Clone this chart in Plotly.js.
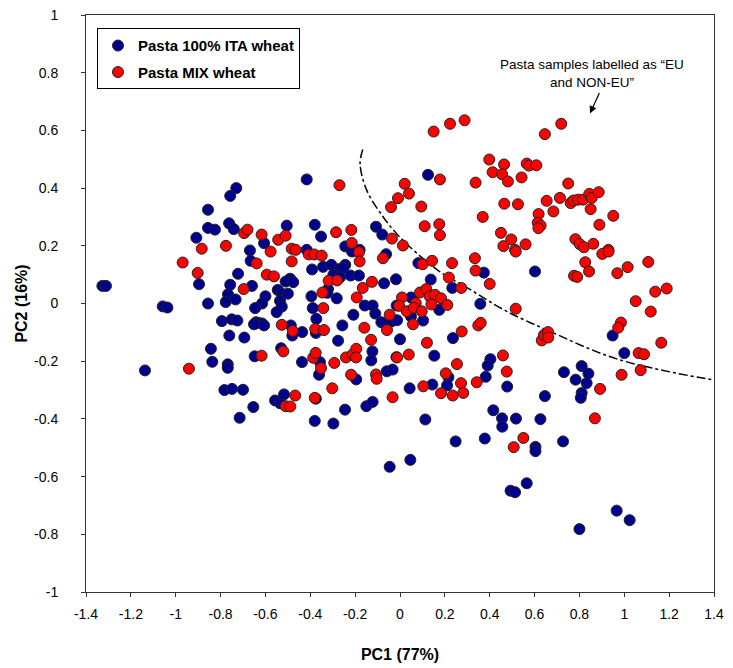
<!DOCTYPE html>
<html>
<head>
<meta charset="utf-8">
<script src="https://cdn.plot.ly/plotly-3.0.1.min.js"></script>
<style>html,body{margin:0;padding:0;background:#fff;}#chart{width:733px;height:668px;}</style>
</head>
<body>
<div id="chart"></div>
<script>
// Pasta 100% ITA wheat (blue)
var itaX = [-0.73,-0.757,-0.856,-0.856,-0.825,-0.762,-0.741,-0.908,-0.416,-0.505,-0.38,-0.352,-0.244,-0.107,-0.079,-0.606,-0.416,-0.669,-0.18,0.125,
-0.896,-0.722,-0.757,-0.767,-0.733,-0.777,-0.856,-1.327,-1.311,-1.058,-1.037,-0.794,-0.75,-0.725,-0.761,-0.694,-0.843,-0.837,-0.768,-0.768,
-1.137,-0.783,-0.749,-0.70,-0.715,-0.214,-0.062,-0.666,-0.392,-0.343,-0.306,-0.27,-0.244,-0.253,-0.297,-0.267,-0.22,-0.183,-0.071,-0.018,
-0.49,-0.51,-0.476,-0.66,-0.545,-0.527,-0.5,-0.321,-0.324,-0.395,-0.282,-0.6,-0.615,-0.646,-0.535,-0.527,-0.55,-0.389,-0.157,-0.122,
-0.11,-0.208,-0.015,-0.04,-0.013,-0.083,-0.373,-0.642,-0.632,-0.615,-0.606,-0.651,-0.487,-0.48,-0.436,-0.375,-0.257,-0.276,-0.648,-0.53,
-0.437,-0.357,-0.361,-0.123,-0.128,-0.016,-0.059,-0.033,-0.195,0.082,0.374,0.602,0.137,0.233,0.049,0.175,0.358,0.049,0.103,0.236,
0.0,0.153,0.403,0.391,0.216,0.382,0.043,0.144,0.21,0.478,0.646,0.416,0.455,0.456,0.517,0.626,0.113,0.248,0.378,0.604,
0.604,0.046,0.565,0.493,0.513,-0.654,-0.557,-0.534,-0.517,-0.375,-0.38,-0.297,-0.245,-0.15,-0.122,-0.046,0.783,0.832,0.81,0.806,
0.727,0.966,1.024,0.8,0.948,1.0,0.731,0.81,0.84];
var itaY = [0.40,0.373,0.325,0.262,0.256,0.278,0.258,0.228,0.43,0.27,0.273,0.232,0.198,0.266,0.239,0.209,0.186,0.184,0.186,0.446,
0.067,0.103,0.065,0.032,0.014,0.005,0.0,0.061,0.061,-0.01,-0.014,-0.061,-0.055,-0.059,-0.111,-0.118,-0.157,-0.202,-0.211,-0.223,
-0.232,-0.30,-0.296,-0.299,-0.396,0.18,0.171,0.148,0.118,0.127,0.134,0.12,0.134,0.122,0.1,0.091,0.097,0.097,0.07,0.084,
0.086,0.076,0.074,0.061,0.047,0.034,0.034,0.05,0.037,0.025,0.018,0.025,0.0,-0.016,0.009,-0.011,-0.03,-0.016,-0.007,-0.007,
-0.035,-0.039,-0.007,-0.063,-0.058,-0.065,-0.053,-0.065,-0.067,-0.069,-0.076,-0.072,-0.076,-0.111,-0.099,-0.102,-0.076,-0.129,-0.183,-0.155,
-0.203,-0.203,-0.247,-0.166,-0.197,-0.186,-0.235,-0.229,-0.263,0.14,0.107,0.111,0.083,0.054,0.021,-0.022,-0.001,-0.045,-0.059,-0.12,
-0.124,-0.181,-0.193,-0.215,-0.256,-0.254,-0.294,-0.281,-0.284,-0.288,-0.321,-0.37,-0.398,-0.427,-0.399,-0.401,-0.402,-0.478,-0.468,-0.497,
-0.512,-0.542,-0.623,-0.649,-0.654,-0.359,-0.336,-0.346,-0.315,-0.33,-0.407,-0.416,-0.368,-0.356,-0.341,-0.566,-0.264,-0.276,-0.31,-0.327,
-0.478,-0.718,-0.751,-0.782,-0.111,-0.172,-0.238,-0.217,-0.243];

// Pasta MIX wheat (red)
var mixX = [-0.695,-0.68,-0.884,-0.776,-0.27,-0.009,-0.04,-0.285,-0.217,-0.215,-0.036,-0.617,-0.543,-0.51,-0.483,-0.465,-0.577,0.15,0.223,0.288,
0.646,0.719,0.398,0.464,0.565,0.575,0.608,0.413,0.455,0.481,0.542,0.178,0.337,0.021,0.04,0.095,0.465,0.526,0.654,0.684,
0.618,0.369,0.614,0.627,0.617,0.11,0.175,0.178,0.45,0.496,0.461,0.56,0.513,0.013,0.75,0.713,0.761,0.773,0.794,0.816,
0.844,0.855,0.886,0.85,0.951,0.889,0.782,0.801,0.82,0.862,0.929,-0.969,-0.902,-0.697,-0.941,-0.407,-0.382,-0.349,-0.183,-0.18,
-0.076,-0.639,-0.483,-0.318,-0.28,-0.125,-0.166,-0.594,-0.562,-0.346,-0.193,-0.342,-0.046,-0.058,-0.527,-0.478,-0.378,-0.339,-0.159,-0.129,
-0.617,-0.52,-0.387,-0.376,-0.352,-0.293,-0.241,-0.211,-0.195,-0.196,-0.218,-0.107,-0.104,0.516,0.101,0.143,0.232,0.334,0.337,0.4,
0.218,0.273,0.009,0.089,0.117,0.132,0.156,0.183,-0.004,0.03,0.07,0.061,0.097,0.14,0.211,0.058,0.349,0.36,0.516,0.632,
0.642,0.66,0.661,0.275,0.12,0.039,-0.013,0.254,0.459,0.476,0.204,0.104,0.272,0.342,0.183,0.235,0.282,0.55,0.507,-0.51,
-0.489,-0.467,-0.38,-0.302,-0.033,0.892,0.869,0.902,0.93,0.826,1.107,0.776,0.79,0.843,0.969,1.015,1.138,1.189,1.051,1.118,
0.985,0.973,1.165,1.064,1.088,0.988,1.073];
var mixY = [0.244,0.256,0.19,0.20,0.41,0.365,0.334,0.247,0.255,0.21,0.225,0.239,0.221,0.235,0.19,0.186,0.18,0.596,0.623,0.635,
0.587,0.623,0.499,0.482,0.485,0.478,0.479,0.455,0.448,0.423,0.437,0.43,0.419,0.415,0.381,0.336,0.346,0.344,0.356,0.319,
0.31,0.30,0.28,0.27,0.261,0.268,0.275,0.237,0.245,0.222,0.199,0.205,0.186,0.201,0.416,0.366,0.348,0.357,0.36,0.36,
0.38,0.366,0.386,0.327,0.304,0.273,0.223,0.206,0.195,0.207,0.186,0.142,0.106,0.05,-0.226,0.17,0.17,0.166,0.178,0.146,
0.157,0.139,0.146,0.079,0.08,0.075,0.054,0.1,0.094,0.038,0.021,-0.016,-0.039,-0.092,-0.074,-0.095,-0.088,-0.092,-0.084,-0.126,
-0.181,-0.166,-0.188,-0.171,-0.224,-0.206,-0.187,-0.176,-0.157,-0.187,-0.247,-0.246,-0.261,0.18,0.136,0.148,0.14,0.157,0.114,0.068,
0.09,0.054,0.021,0.038,0.05,0.025,0.03,0.018,-0.008,-0.027,0.001,-0.015,-0.027,-0.003,-0.005,-0.072,-0.076,-0.067,-0.018,-0.128,
-0.109,-0.099,-0.118,-0.097,-0.136,-0.177,-0.187,-0.21,-0.18,-0.236,-0.242,-0.287,-0.276,-0.273,-0.311,-0.319,-0.31,-0.466,-0.498,-0.356,
-0.357,-0.319,-0.327,-0.294,-0.325,-0.296,-0.398,0.172,0.18,0.143,0.144,0.096,0.092,0.111,0.105,0.126,0.041,0.052,0.008,-0.028,
-0.066,-0.084,-0.136,-0.172,-0.176,-0.247,-0.231];

// dash-dot boundary curve
var curveX = [-0.166,-0.178,-0.148,-0.074,-0.015,0.037,0.171,0.32,0.468,0.661,0.966,1.367,1.4];
var curveY = [0.534,0.484,0.392,0.299,0.242,0.201,0.114,0.045,-0.024,-0.094,-0.192,-0.261,-0.264];

var tickValsX = [-1.4,-1.2,-1,-0.8,-0.6,-0.4,-0.2,0,0.2,0.4,0.6,0.8,1,1.2,1.4];
var tickTextX = ["-1.4","-1.2","-1","-0.8","-0.6","-0.4","-0.2","0","0.2","0.4","0.6","0.8","1","1.2","1.4"];
var tickValsY = [-1,-0.8,-0.6,-0.4,-0.2,0,0.2,0.4,0.6,0.8,1];
var tickTextY = ["-1","-0.8","-0.6","-0.4","-0.2","0","0.2","0.4","0.6","0.8","1"];

var FONT = "Arial, 'Liberation Sans', sans-serif";
var mk = function(c){ return {color:c, size:11, line:{color:'#222', width:1}}; };

var traces = [
  {x:curveX, y:curveY, mode:'lines', line:{color:'#000', width:1.5, dash:'dashdot', shape:'spline'}, showlegend:false, hoverinfo:'skip'},
  {x:itaX, y:itaY, mode:'markers', type:'scatter', name:'Pasta 100% ITA wheat', legendgroup:'a', marker:mk('#00008F')},
  {x:mixX, y:mixY, mode:'markers', type:'scatter', name:'Pasta MIX wheat', legendgroup:'b', marker:mk('#FF0000')}
];

var layout = {
  width:733, height:668,
  margin:{l:86, r:19, t:15, b:76},
  paper_bgcolor:'#fff', plot_bgcolor:'#fff',
  font:{family:FONT, size:14, color:'#000'},
  showlegend:true,
  legend:{x:0.0175, y:0.977, xanchor:'left', yanchor:'top', bordercolor:'#000', borderwidth:1, bgcolor:'#fff',
          font:{family:FONT, size:15, weight:'bold', color:'#000'}, itemwidth:30, tracegroupgap:4},
  xaxis:{range:[-1.4,1.4], tickvals:tickValsX, ticktext:tickTextX, showgrid:false, zeroline:false,
         showline:true, mirror:true, linecolor:'#333', linewidth:1, ticks:'outside', ticklen:4, tickcolor:'#333',
         ticklabelstandoff:5,
         tickfont:{family:FONT, size:14, color:'#000'},
         title:{text:'PC1 (77%)', font:{family:FONT, size:16, weight:'bold', color:'#000'}, standoff:28}},
  yaxis:{range:[-1,1], tickvals:tickValsY, ticktext:tickTextY, showgrid:false, zeroline:false,
         showline:true, mirror:true, linecolor:'#333', linewidth:1, ticks:'outside', ticklen:4, tickcolor:'#333',
         ticklabelstandoff:20,
         tickfont:{family:FONT, size:14, color:'#000'},
         title:{text:'PC2 (16%)', font:{family:FONT, size:16, weight:'bold', color:'#000'}, standoff:2}},
  annotations:[
    {x:0.856, y:0.797, xref:'x', yref:'y', text:'Pasta samples labelled as \u201CEU<br>and NON-EU\u201D', showarrow:false,
     font:{family:FONT, size:13.5, color:'#000'}, align:'center'},
    {x:0.847, y:0.659, xref:'x', yref:'y', ax:0.892, ay:0.735, axref:'x', ayref:'y', text:'', showarrow:true,
     arrowhead:2, arrowsize:1.2, arrowwidth:1.2, arrowcolor:'#000'}
  ]
};

Plotly.newPlot('chart', traces, layout, {displayModeBar:false, staticPlot:true});
</script>
</body>
</html>
